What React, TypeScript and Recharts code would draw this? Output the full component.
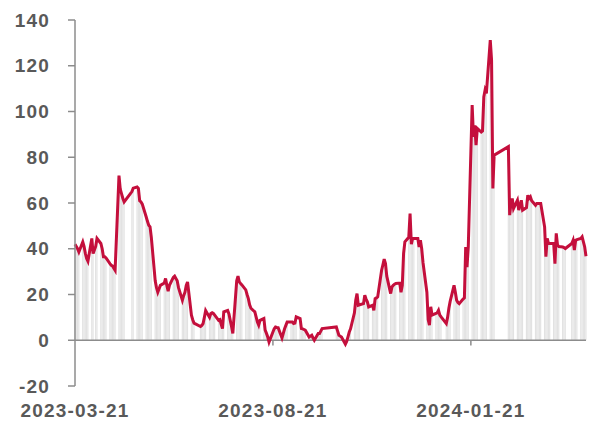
import { ComposedChart, Bar, Line, XAxis, YAxis, ReferenceLine } from "recharts";

// one row per week (Mon..Fri), null = no trading / before start
const weekStarts = [
  "2023-03-20", "2023-03-27", "2023-04-03", "2023-04-10", "2023-04-17", "2023-04-24",
  "2023-05-01", "2023-05-08", "2023-05-15", "2023-05-22", "2023-05-29", "2023-06-05",
  "2023-06-12", "2023-06-19", "2023-06-26", "2023-07-03", "2023-07-10", "2023-07-17",
  "2023-07-24", "2023-07-31", "2023-08-07", "2023-08-14", "2023-08-21", "2023-08-28",
  "2023-09-04", "2023-09-11", "2023-09-18", "2023-09-25", "2023-10-02", "2023-10-09",
  "2023-10-16", "2023-10-23", "2023-10-30", "2023-11-06", "2023-11-13", "2023-11-20",
  "2023-11-27", "2023-12-04", "2023-12-11", "2023-12-18", "2023-12-25", "2024-01-01",
  "2024-01-08", "2024-01-15", "2024-01-22", "2024-01-29", "2024-02-05", "2024-02-12",
  "2024-02-19", "2024-02-26", "2024-03-04", "2024-03-11", "2024-03-18", "2024-03-25",
  "2024-04-01", "2024-04-08", "2024-04-15",
];

const weekValues: (number | null)[][] = [
  [null, 42, 41, 40, 38.6],
  [43, 41, 38, 35.7, 34.5],
  [44.5, 37.9, null, 41, 44.5],
  [42.3, 40, 36.5, 36.5, 36],
  [33.5, 32.8, 32.5, 31.5, 30.6],
  [72, 66, 64, 62, 60.5],
  [null, null, null, 65, 66.5],
  [67, 66.4, 61, 60.5, 59.5],
  [54, 52, 50.3, 49.6, 45],
  [26, 23, 21, 22.5, 24],
  [25, 27, 24, 21.5, 24],
  [27.5, 28, 27, 26, 23],
  [17.5, 19.5, 21, 24, 25.5],
  [11, 9, 7.5, null, null],
  [6, 6.5, 7.3, 10, 13],
  [10, 11.7, 12, 11.7, 11],
  [8.7, 9, 7, 5.1, 12.4],
  [13, 11.5, 8.7, 6, 3],
  [26, 28, 25.5, 24.8, 24.2],
  [22, 20, 18.2, 15.5, 14],
  [12.4, 10.2, 8, 6.6, 8.7],
  [9.5, 4.4, 3, 1.4, -0.8],
  [3.6, 5, 5.8, 5.6, 5.5],
  [1, 3, 5, 6.5, 8],
  [8, 8, 7.3, 7.5, 10.2],
  [9.5, 5.1, 5, 4.7, 4.4],
  [1.4, 1.8, 2.2, 1, 0],
  [2.9, 2.9, 4, 5.1, null],
  [null, null, null, null, null],
  [5.8, 4, 2.2, 1.8, 1.4],
  [-1.7, -0.5, 1.5, 3.6, 5],
  [12, 17.5, 20.4, 15.3, 15.5],
  [16, 19.7, 18, 16.8, 14.6],
  [15.3, 13.1, 18.2, 18.5, 19],
  [30.6, 33, 35.5, 33.5, 28],
  [20.4, 23.3, 24, 24.5, 24.8],
  [25, 21, 24, 38, 43],
  [45, 55.4, 42, 44.5, 44.5],
  [44.5, 40.8, 43.7, 40, 34],
  [21, 9, 6.6, 14.6, 11],
  [11.7, 12, 13.1, 11, 10.2],
  [null, 7.3, 10, 14, 17],
  [24, 21, 17.5, 16.5, 16],
  [18, 18.5, 40.8, 32, 40.8],
  [102.8, 88.9, 94, 85.3, 92.6],
  [91, 91.5, 106.4, 109.4, 107.9],
  [131.2, 122.5, 66.4, 80.9, null],
  [null, null, null, null, null],
  [84.6, 54.7, 59.8, 62, 57.6],
  [61.2, 56.9, 59, 61.2, 56.9],
  [58, 63.4, 62, 62.7, 61],
  [59, 59.8, 59.8, 59.8, 59.8],
  [49.6, 36.5, 44.5, 42.3, 42.3],
  [42.3, 33.5, 46.7, 41.6, 41],
  [40.8, 40.5, 40.1, null, null],
  [42.3, 43.7, 39.4, 43.7, 44],
  [44.5, 45.2, 43, 40.8, 36.7],
];

const xTickDates = ["2023-03-21", "2023-08-21", "2024-01-21"];
const yTicks = [-20, 0, 20, 40, 60, 80, 100, 120, 140];

const DAY = 86400000;
const toTime = (s: string) => {
  const [y, m, d] = s.split("-").map(Number);
  return Date.UTC(y, m - 1, d);
};
const fmtDate = (t: number) => new Date(t).toISOString().slice(0, 10);

const data: { t: number; v: number }[] = [];
weekStarts.forEach((w, i) => {
  weekValues[i].forEach((v, d) => {
    if (v !== null) data.push({ t: toTime(w) + d * DAY, v });
  });
});

const xTicks = xTickDates.map(toTime);
const xStart = toTime("2023-03-21");
const xEnd = data[data.length - 1].t;

const axisGrey = "#8c8c8c";
const tickStyle = {
  fill: "#595959",
  fontSize: 19,
  fontWeight: 700,
  fontFamily: "'Liberation Sans', Arial, sans-serif",
};

export default function App() {
  return (
    <div
      style={{
        position: "absolute",
        left: 0,
        top: 0,
        width: 603,
        height: 423,
        background: "#fff",
        letterSpacing: "1.2px",
      }}
    >
      <ComposedChart
        width={603}
        height={423}
        data={data}
        margin={{ top: 20, right: 17, bottom: 7, left: 0 }}
      >
        <XAxis
          dataKey="t"
          type="number"
          domain={[xStart, xEnd]}
          ticks={xTicks}
          tickFormatter={fmtDate}
          axisLine={false}
          tickLine={false}
          tickSize={0}
          tickMargin={18}
          height={30}
          tick={tickStyle}
          interval={0}
        />
        <YAxis
          domain={[-20, 140]}
          ticks={yTicks}
          width={75}
          axisLine={{ stroke: axisGrey, strokeWidth: 1.5 }}
          tickLine={{ stroke: axisGrey, strokeWidth: 1.5 }}
          tickSize={7}
          tickMargin={18}
          tick={tickStyle}
          interval={0}
        />
        <Bar dataKey="v" fill="#e2e2e2" barSize={2} isAnimationActive={false} />
        <ReferenceLine y={0} stroke={axisGrey} strokeWidth={1.5} />
        {xTicks.slice(1).map((t) => (
          <ReferenceLine
            key={t}
            segment={[
              { x: t, y: 0 },
              { x: t, y: -2.3 },
            ]}
            stroke={axisGrey}
            strokeWidth={1.5}
          />
        ))}
        <Line
          dataKey="v"
          type="linear"
          stroke="#c40f3c"
          strokeWidth={3}
          dot={false}
          isAnimationActive={false}
        />
      </ComposedChart>
    </div>
  );
}
